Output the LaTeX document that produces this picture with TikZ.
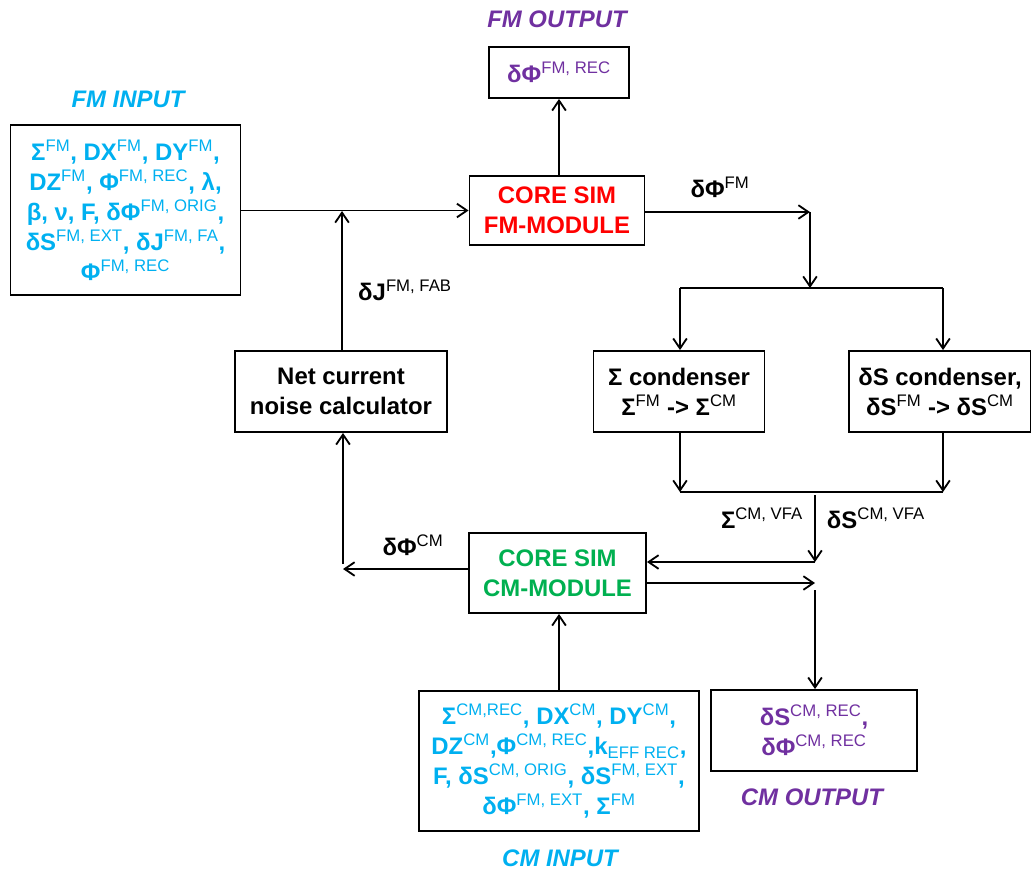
\documentclass[tikz,border=0pt]{standalone}
\usepackage{fontspec}
\setmainfont{Liberation Sans}
\usetikzlibrary{positioning,arrows.meta}
\definecolor{inblue}{RGB}{0,176,240}
\definecolor{outpurple}{RGB}{112,48,160}
\definecolor{simred}{RGB}{255,0,0}
\definecolor{simgreen}{RGB}{0,176,80}
\newcommand{\hi}[1]{\textsuperscript{\mdseries #1}}
\newcommand{\lo}[1]{\textsubscript{\mdseries #1}}

\begin{document}
\begin{tikzpicture}[
  x=0.025cm, y=-0.025cm,
  font=\fontsize{17}{21.3}\selectfont\bfseries,
  block/.style={draw, line width=1.3pt, align=center, inner sep=2pt},
  inbox/.style={block, text=inblue},
  outbox/.style={block, text=outpurple},
  heading/.style={font=\fontsize{17}{20}\selectfont\bfseries\itshape},
  flow/.style={draw, line width=1.3pt, -{Straight Barb[length=2.5mm,width=3.4mm]}},
  wire/.style={draw, line width=1.3pt}
]
  \useasboundingbox (0,0) rectangle (1031,870);

  % boxes
  \node[inbox, minimum width=5.75cm, minimum height=4.25cm] (fmin) at (125.5,210)
    {Σ\hi{FM}, DX\hi{FM}, DY\hi{FM},\\
     DZ\hi{FM}, Φ\hi{FM, REC}, λ,\\
     β, ν, F, δΦ\hi{FM, ORIG},\\
     δS\hi{FM, EXT}, δJ\hi{FM, FA},\\
     Φ\hi{FM, REC}};
  \node[outbox, minimum width=3.5cm, minimum height=1.275cm] (fmout) at (559,72.5)
    {δΦ\hi{FM, REC}};
  \node[block, text=simred, minimum width=4.375cm, minimum height=1.725cm] (corefm) at (557,210.5)
    {CORE SIM\\FM-MODULE};
  \node[block, minimum width=4.275cm, minimum height=2.025cm] (sigcond) at (679,391.5)
    {Σ condenser\\Σ\hi{FM} -> Σ\hi{CM}};
  \node[block, minimum width=4.55cm, minimum height=2.025cm] (dscond) at (940,391.5)
    {δS condenser,\\δS\hi{FM} -> δS\hi{CM}};
  \node[block, minimum width=5.3cm, minimum height=2.025cm] (netcur) at (341,391.5)
    {Net current\\noise calculator};
  \node[block, text=simgreen, minimum width=4.425cm, minimum height=2cm] (corecm) at (557.5,573)
    {CORE SIM\\CM-MODULE};
  \node[inbox, minimum width=7cm, minimum height=3.5cm] (cmin) at (559,761)
    {Σ\hi{CM,REC}, DX\hi{CM}, DY\hi{CM},\\
     DZ\hi{CM},Φ\hi{CM, REC},k\lo{EFF REC},\\
     F, δS\hi{CM, ORIG}, δS\hi{FM, EXT},\\
     δΦ\hi{FM, EXT}, Σ\hi{FM}};
  \node[outbox, minimum width=5.15cm, minimum height=2.025cm] (cmout) at (814,730.5)
    {δS\hi{CM, REC},\\δΦ\hi{CM, REC}};

  % titles
  \node[heading, text=inblue] (fmintitle) at (128,99) {FM INPUT};
  \node[heading, text=outpurple] (fmouttitle) at (557,19) {FM OUTPUT};
  \node[heading, text=inblue] (cmintitle) at (560,858) {CM INPUT};
  \node[heading, text=outpurple] (cmouttitle) at (812,797) {CM OUTPUT};

  % signal labels
  \node (dphifm) at (720,187) {δΦ\hi{FM}};
  \node (djfm) at (405,290) {δJ\hi{FM, FAB}};
  \node[anchor=east] (sigvfa) at (808,518) {Σ\hi{CM, VFA}};
  \node[anchor=west] (dsvfa) at (822,518) {δS\hi{CM, VFA}};
  \node (dphicm) at (413,545) {δΦ\hi{CM}};

  % junctions
  \coordinate (j1) at (810,212);
  \coordinate (j2) at (810,288);
  \coordinate (a1) at (680,288);
  \coordinate (a2) at (943,288);
  \coordinate (b1) at (680,492);
  \coordinate (b2) at (943,492);
  \coordinate (c1) at (815,495);
  \coordinate (c2) at (815,562);
  \coordinate (d1) at (815,583);
  \coordinate (d2) at (815,590);
  \coordinate (e1) at (343,569);
  \coordinate (e2) at (343,564);
  \coordinate (f1) at (342,211);

  % connectors
  \draw[flow] (fmin.east |- corefm.west) -- (corefm.west);
  \draw[flow] (corefm.north -| fmout.south) -- (fmout.south);
  \draw[flow] (j1 -| corefm.east) -- (j1);
  \draw[flow] (j1) -- (j2);
  \draw[wire] (a1) -- (a2);
  \draw[flow] (a1) -- (a1 |- sigcond.north);
  \draw[flow] (a2) -- (a2 |- dscond.north);
  \draw[flow] (b1 |- sigcond.south) -- (b1);
  \draw[flow] (b2 |- dscond.south) -- (b2);
  \draw[wire] (b1) -- (b2);
  \draw[flow] (c1) -- (c2);
  \draw[flow] (c2) -- (c2 -| corecm.east);
  \draw[flow] (d1 -| corecm.east) -- (d1);
  \draw[flow] (d2) -- (d2 |- cmout.north);
  \draw[flow] (e1 -| corecm.west) -- (e1);
  \draw[flow] (e2) -- (e2 |- netcur.south);
  \draw[flow] (f1 |- netcur.north) -- (f1);
  \draw[flow] (cmin.north) -- (cmin.north |- corecm.south);

\end{tikzpicture}
\end{document}
